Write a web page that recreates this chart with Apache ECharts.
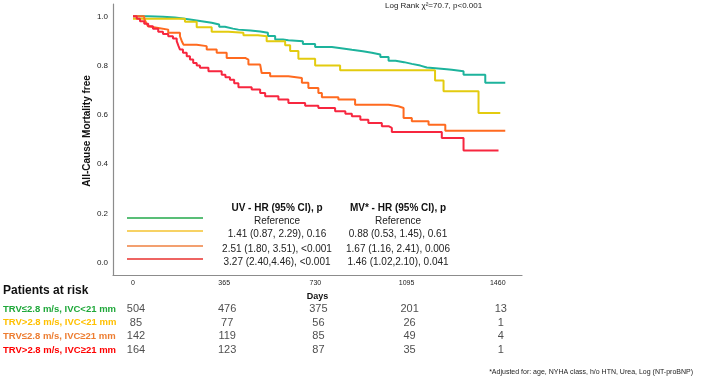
<!DOCTYPE html>
<html>
<head>
<meta charset="utf-8">
<script src="https://cdn.jsdelivr.net/npm/echarts@6/dist/echarts.min.js"></script>
<style>
  html, body { margin: 0; padding: 0; background: #fff; }
  #chart { width: 707px; height: 379px; }
</style>
</head>
<body>
<div id="chart"></div>
<script>
// survival curves: [day, survival]
const grpA = [[0,1.0],[60,0.998],[120,0.995],[168,0.991],[200,0.986],[235,0.98],[275,0.974],[315,0.967],[345,0.958],[368,0.95],[400,0.946],[422,0.942],[470,0.938],[509,0.933],[540,0.92],[569,0.906],[600,0.903],[622,0.899],[680,0.888],[729,0.875],[796,0.869],[840,0.864],[876,0.858],[920,0.852],[956,0.845],[990,0.835],[1023,0.82],[1051,0.814],[1085,0.807],[1116,0.80],[1150,0.792],[1176,0.785],[1256,0.783],[1276,0.777],[1323,0.763],[1410,0.73],[1490,0.73]];
const grpB = [[0,0.99],[170,0.99],[208,0.978],[255,0.956],[315,0.937],[382,0.933],[442,0.923],[500,0.919],[535,0.899],[609,0.883],[629,0.859],[662,0.828],[729,0.80],[829,0.781],[1209,0.739],[1243,0.696],[1383,0.608],[1470,0.608]];
const grpC = [[0,1.0],[45,0.99],[52,0.975],[60,0.96],[68,0.953],[101,0.946],[141,0.933],[188,0.919],[195,0.9],[202,0.885],[255,0.879],[295,0.865],[335,0.852],[375,0.831],[449,0.824],[462,0.804],[509,0.80],[515,0.77],[549,0.757],[622,0.75],[676,0.73],[702,0.709],[742,0.689],[756,0.672],[822,0.662],[889,0.641],[1023,0.635],[1062,0.628],[1083,0.587],[1116,0.574],[1183,0.56],[1250,0.536],[1490,0.536]];
const grpD = [[0,1.0],[15,0.99],[28,0.98],[45,0.97],[61,0.96],[80,0.95],[101,0.937],[120,0.928],[141,0.919],[160,0.91],[175,0.899],[182,0.88],[188,0.865],[200,0.852],[215,0.838],[228,0.825],[241,0.811],[255,0.80],[268,0.791],[302,0.777],[355,0.763],[370,0.753],[388,0.743],[405,0.728],[422,0.712],[475,0.703],[509,0.689],[529,0.676],[582,0.662],[622,0.648],[689,0.637],[742,0.628],[809,0.615],[850,0.605],[876,0.594],[910,0.58],[942,0.567],[996,0.554],[1023,0.547],[1036,0.53],[1236,0.506],[1323,0.455],[1463,0.455]];

const dayTicks = [0, 365, 730, 1095, 1460];
const riskLabels = ['TRV≤2.8 m/s, IVC<21 mm', 'TRV>2.8 m/s, IVC<21 mm', 'TRV≤2.8 m/s, IVC≥21 mm', 'TRV>2.8 m/s, IVC≥21 mm'];
const riskA = [504, 476, 375, 201, 13];
const riskB = [85, 77, 56, 26, 1];
const riskC = [142, 119, 85, 49, 4];
const riskD = [164, 123, 87, 35, 1];

const uvRows = ['Reference', '1.41 (0.87, 2.29), 0.16', '2.51 (1.80, 3.51), <0.001', '3.27 (2.40,4.46), <0.001'];
const mvRows = ['Reference', '0.88 (0.53, 1.45), 0.61', '1.67 (1.16, 2.41), 0.006', '1.46 (1.02,2.10), 0.041'];

const curveColors = ['#1db39c', '#e3cb0f', '#ff6a1f', '#f7263f'];
const keyColors = ['#22a84a', '#f5c330', '#ef8040', '#e8302e'];
const riskColors = ['#1fa83a', '#ffc000', '#ed7d31', '#ff0000'];

const riskPoints = [];
[riskA, riskB, riskC, riskD].forEach((row, r) => {
  row.forEach((n, i) => riskPoints.push([dayTicks[i], riskLabels[r], n]));
});

const font = 'Liberation Sans, Arial, sans-serif';
const graphics = [];
graphics.push({
  type: 'text', x: 87, y: 131, rotation: Math.PI / 2,
  style: { text: 'All-Cause Mortality free', font: 'bold 10px ' + font, fill: '#111', align: 'center', verticalAlign: 'middle' }
});
graphics.push({
  type: 'text', x: 385, y: 6,
  style: { text: 'Log Rank χ²=70.7, p<0.001', font: '8px ' + font, fill: '#222', align: 'left', verticalAlign: 'middle' }
});
graphics.push({
  type: 'text', x: 277, y: 208,
  style: { text: 'UV - HR (95% CI), p', font: 'bold 10px ' + font, fill: '#111', align: 'center', verticalAlign: 'middle' }
});
graphics.push({
  type: 'text', x: 398, y: 208,
  style: { text: 'MV* - HR (95% CI), p', font: 'bold 10px ' + font, fill: '#111', align: 'center', verticalAlign: 'middle' }
});
const rowY = [218, 231, 246, 259];
rowY.forEach((y, i) => {
  graphics.push({ type: 'line', shape: { x1: 127, y1: y, x2: 203, y2: y }, style: { stroke: keyColors[i], lineWidth: 1.5 } });
  graphics.push({ type: 'text', x: 277, y: y + 3, style: { text: uvRows[i], font: '10px ' + font, fill: '#222', align: 'center', verticalAlign: 'middle' } });
  graphics.push({ type: 'text', x: 398, y: y + 3, style: { text: mvRows[i], font: '10px ' + font, fill: '#222', align: 'center', verticalAlign: 'middle' } });
});
graphics.push({
  type: 'text', x: 3, y: 291,
  style: { text: 'Patients at risk', font: 'bold 12px ' + font, fill: '#111', align: 'left', verticalAlign: 'middle' }
});
graphics.push({
  type: 'text', x: 693, y: 372,
  style: { text: '*Adjusted for: age, NYHA class, h/o HTN, Urea, Log (NT-proBNP)', font: '7px ' + font, fill: '#222', align: 'right', verticalAlign: 'middle' }
});

const myChart = echarts.init(document.getElementById('chart'), null, { renderer: 'canvas' });
myChart.setOption({
  animation: false,
  textStyle: { fontFamily: font },
  grid: [
    { left: 113, right: 185, top: 4, bottom: 104 },
    { left: 113, right: 185, top: 302, height: 55 }
  ],
  xAxis: [
    {
      gridIndex: 0, type: 'value', min: -80, max: 1557, interval: 5,
      axisLine: { onZero: false, lineStyle: { color: '#8c8c8c', width: 1.2 } },
      axisTick: { show: false },
      splitLine: { show: false },
      axisLabel: {
        fontSize: 7, color: '#222', margin: 5,
        formatter: v => dayTicks.includes(v) ? String(v) : ''
      },
      name: 'Days', nameLocation: 'middle', nameGap: 17,
      nameTextStyle: { fontSize: 9, fontWeight: 'bold', color: '#111' }
    },
    { gridIndex: 1, type: 'value', min: -80, max: 1557, show: false }
  ],
  yAxis: [
    {
      gridIndex: 0, type: 'value', min: -0.05, max: 1.05, interval: 0.05,
      axisLine: { show: true, onZero: false, lineStyle: { color: '#8c8c8c', width: 1.2 } },
      axisTick: { show: false },
      splitLine: { show: false },
      axisLabel: {
        fontSize: 8, color: '#222', margin: 5,
        formatter: v => {
          const k = Math.round(v * 100);
          return (k >= 0 && k % 20 === 0) ? (k / 100).toFixed(1) : '';
        }
      }
    },
    {
      gridIndex: 1, type: 'category', data: riskLabels, inverse: true,
      axisLine: { show: false }, axisTick: { show: false },
      axisLabel: {
        align: 'left', margin: 110, fontSize: 9.5, fontWeight: 'bold',
        color: (val, idx) => riskColors[idx]
      }
    }
  ],
  series: [
    { type: 'line', step: 'end', data: grpA, showSymbol: false, lineStyle: { color: curveColors[0], width: 2 } },
    { type: 'line', step: 'end', data: grpB, showSymbol: false, lineStyle: { color: curveColors[1], width: 2 } },
    { type: 'line', step: 'end', data: grpC, showSymbol: false, lineStyle: { color: curveColors[2], width: 2 } },
    { type: 'line', step: 'end', data: grpD, showSymbol: false, lineStyle: { color: curveColors[3], width: 2 } },
    {
      type: 'scatter', xAxisIndex: 1, yAxisIndex: 1, data: riskPoints,
      symbolSize: 0.1, itemStyle: { color: 'rgba(0,0,0,0)' },
      label: {
        show: true, position: 'inside', offset: [3, 0],
        fontSize: 11, color: '#222',
        formatter: p => String(p.value[2])
      }
    }
  ],
  graphic: graphics
});
window.addEventListener('resize', () => { if (myChart) myChart.resize(); });
</script>
</body>
</html>
